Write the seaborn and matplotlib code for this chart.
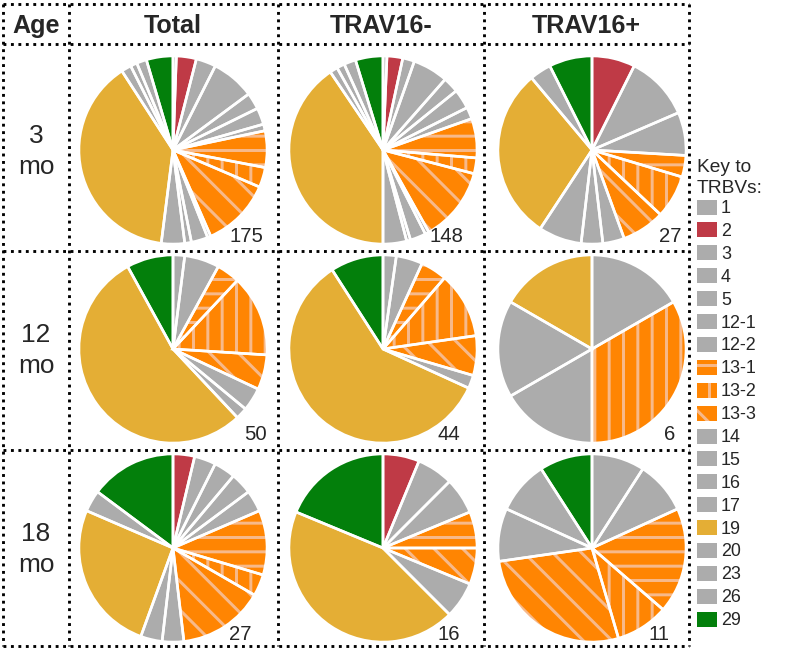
import matplotlib
matplotlib.use("Agg")
import matplotlib.pyplot as plt
import seaborn as sns
from matplotlib.patches import Rectangle

sns.set_theme(style="white")
plt.rcParams['font.family'] = ['Liberation Sans', 'DejaVu Sans']
plt.rcParams['hatch.linewidth'] = 2.5

# TRBV segments, in clockwise order from 12 o'clock
trbv = ['1', '2', '3', '4', '5', '12-1', '12-2', '13-1', '13-2', '13-3',
        '14', '15', '16', '17', '19', '20', '23', '26', '29']

GRAY = '#acacac'
trbv_colors = [GRAY, '#bf3a46', GRAY, GRAY, GRAY, GRAY, GRAY,
               '#ff8502', '#ff8502', '#ff8502',
               GRAY, GRAY, GRAY, GRAY, '#e4ae35', GRAY, GRAY, GRAY, '#037f0b']
trbv_hatch = ['', '', '', '', '', '', '', '-', '|', '\\',
              '', '', '', '', '', '', '', '', '']
HATCH_COLOR = '#f7b98a'

# clone counts per TRBV (same order as trbv)
total_3mo  = [1, 6, 6, 13, 5, 5, 2, 11, 6, 21, 1, 5, 2, 7, 68, 3, 2, 3, 8]
neg_3mo    = [1, 4, 3, 9, 4, 5, 3, 10, 4, 19, 1, 4, 1, 6, 60, 2, 2, 3, 7]
pos_3mo    = [0, 2, 3, 2, 0, 0, 0, 1, 2, 2, 1, 1, 2, 0, 8, 1, 0, 0, 2]
total_12mo = [1, 0, 3, 0, 0, 0, 0, 2, 7, 3, 2, 1, 0, 0, 27, 0, 0, 0, 4]
neg_12mo   = [1, 0, 2, 0, 0, 0, 0, 2, 5, 3, 1, 0, 0, 0, 26, 0, 0, 0, 4]
pos_12mo   = [0, 0, 0, 1, 0, 0, 0, 0, 2, 0, 0, 1, 1, 0, 1, 0, 0, 0, 0]
total_18mo = [0, 1, 1, 1, 1, 1, 0, 3, 1, 4, 1, 1, 0, 0, 7, 1, 0, 0, 4]
neg_18mo   = [0, 1, 1, 1, 0, 0, 0, 1, 0, 1, 1, 0, 0, 0, 7, 0, 0, 0, 3]
pos_18mo   = [1, 0, 1, 0, 0, 0, 0, 2, 1, 3, 0, 0, 0, 0, 0, 1, 1, 0, 1]

columns = ['Total', 'TRAV16-', 'TRAV16+']
ages = ['3', '12', '18']
panels = [[total_3mo, neg_3mo, pos_3mo],
          [total_12mo, neg_12mo, pos_12mo],
          [total_18mo, neg_18mo, pos_18mo]]

W, H, DPI = 786, 650, 86
fig = plt.figure(figsize=(W / DPI, H / DPI), dpi=DPI)

# background axes in pixel coordinates for the dotted grid and key
bg = fig.add_axes([0, 0, 1, 1])
bg.set_xlim(0, W)
bg.set_ylim(H, 0)
bg.axis('off')

dot = dict(color='black', lw=2.4, ls=(0, (1, 1.6)), dash_capstyle='butt')
for x in [3, 69, 278, 484, 689]:
    bg.plot([x, x], [4, 646], **dot)
for y in [4, 44, 251, 450, 646]:
    bg.plot([3, 689], [y, y], **dot)

def px(x, y):
    return x / W, 1 - y / H

# header
for x, lab in zip([36, 173, 381, 586], ['Age'] + columns):
    fig.text(*px(x, 33), lab, ha='center', va='baseline',
             fontsize=21, fontweight='bold')

col_x = [173, 383, 592]
row_y = [150, 349, 548]
num_pos = [[(263, 242), (463, 242), (682, 242)],
           [(267, 440), (460, 440), (675, 440)],
           [(252, 640), (460, 640), (670, 640)]]
R = 95

for i, age in enumerate(ages):
    fig.text(*px(36, row_y[i] - 7), age, ha='center', va='baseline', fontsize=22)
    fig.text(*px(36, row_y[i] + 24), 'mo', ha='center', va='baseline', fontsize=22)
    for j in range(3):
        counts = panels[i][j]
        keep = [k for k, c in enumerate(counts) if c > 0]
        vals = [counts[k] for k in keep]
        cols = [trbv_colors[k] for k in keep]
        hats = [trbv_hatch[k] for k in keep]

        cx, cy = col_x[j], row_y[i]
        ax = fig.add_axes([(cx - R) / W, 1 - (cy + R) / H, 2 * R / W, 2 * R / H])
        wedges, _ = ax.pie(vals, colors=cols, startangle=90, counterclock=False,
                           radius=1, wedgeprops=dict(linewidth=0))
        for w, h in zip(wedges, hats):
            if h:
                w.set_hatch(h)
                w.set_edgecolor(HATCH_COLOR)
                w.set_linewidth(0)
        # white separators on top
        ax.pie(vals, colors=['none'] * len(vals), startangle=90, counterclock=False,
               radius=1, wedgeprops=dict(linewidth=2.2, edgecolor='white', fill=False))
        ax.set_xlim(-1.01, 1.01)
        ax.set_ylim(-1.01, 1.01)
        ax.axis('off')

        nx, ny = num_pos[i][j]
        fig.text(*px(nx, ny), str(sum(counts)), ha='right', va='baseline', fontsize=17)

# key
fig.text(*px(697, 172), 'Key to', ha='left', va='baseline', fontsize=16)
fig.text(*px(697, 193), 'TRBVs:', ha='left', va='baseline', fontsize=16)
for k, lab in enumerate(trbv):
    yc = 207 + k * 22.9
    r = Rectangle((697, yc - 7.5), 20, 15, facecolor=trbv_colors[k],
                  edgecolor=HATCH_COLOR if trbv_hatch[k] else 'none',
                  hatch=trbv_hatch[k] or None, linewidth=0)
    bg.add_patch(r)
    fig.text(*px(721, yc + 6), lab, ha='left', va='baseline', fontsize=15)

fig.savefig('out.png', dpi=DPI)
